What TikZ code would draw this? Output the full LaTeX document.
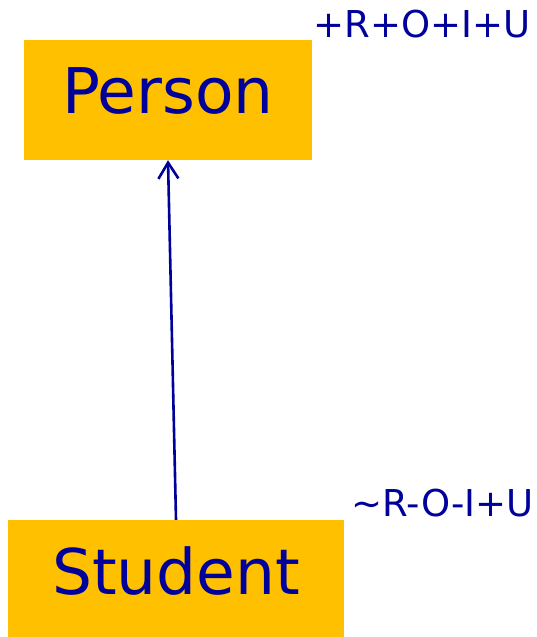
\documentclass[tikz,border=0pt]{standalone}
\usepackage{fontspec}
\setmainfont{DejaVu Sans}
\definecolor{BoxGold}{HTML}{FFC000}
\definecolor{InkBlue}{HTML}{00009A}
\usetikzlibrary{arrows.meta, positioning}

\begin{document}
\begin{tikzpicture}[x=1pt, y=-1pt,
    classbox/.style={fill=BoxGold, text=InkBlue, inner sep=0pt, text height=47pt,
      font=\fontsize{63}{63}\selectfont},
    tag/.style={text=InkBlue, inner sep=0pt, anchor=base east,
      font=\fontsize{37}{37}\selectfont}]
  \useasboundingbox (0,0) rectangle (536,637);
  % Classes
  \node[classbox, text depth=20pt, minimum width=288pt, minimum height=120pt] (person) at (168,100) {Person};
  \node[classbox, text depth=16pt, minimum width=336pt, minimum height=117pt] (student) at (176,578.5) {Student};
  % Modifier tags
  \node[tag] (persontag) at (531,37) {+R+O+I+U};
  \node[tag] (studenttag) at (534,516) {\char"223C R-O-I+U};
  % Generalisation
  \draw[InkBlue, line width=2.6pt, -{Straight Barb[length=16pt, width=20pt]}]
    (student.north) -- (person.south);
\end{tikzpicture}
\end{document}
